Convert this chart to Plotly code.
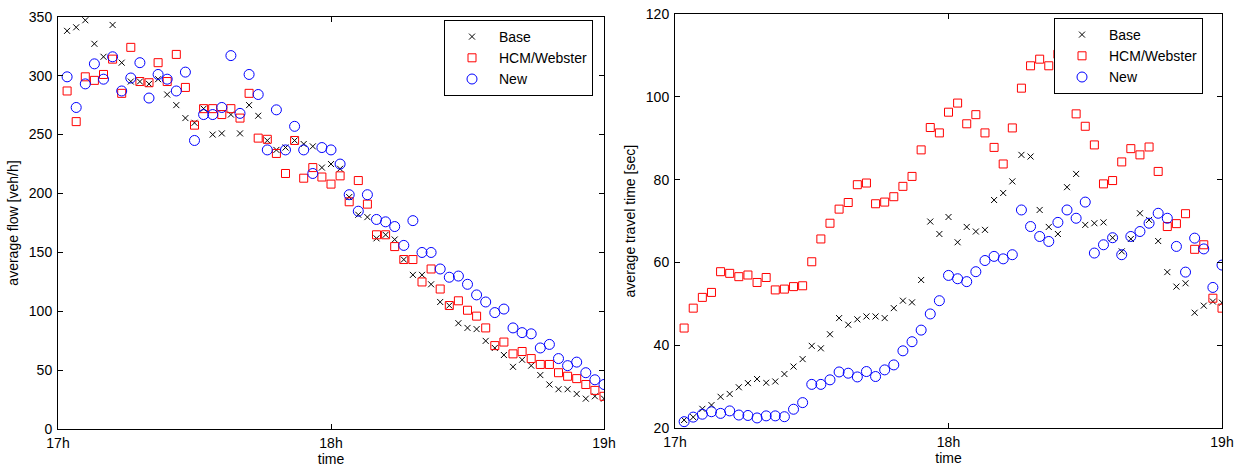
import plotly.graph_objects as go

# minutes after 17:00
minutes = [2, 4, 6, 8, 10, 12, 14, 16, 18, 20, 22, 24, 26, 28, 30, 32, 34, 36, 38, 40,
           42, 44, 46, 48, 50, 52, 54, 56, 58, 60, 62, 64, 66, 68, 70, 72, 74, 76, 78, 80,
           82, 84, 86, 88, 90, 92, 94, 96, 98, 100, 102, 104, 106, 108, 110, 112, 114, 116, 118, 120]

x_tickvals = [0, 60, 120]
x_ticktext = ["17h", "18h", "19h"]

flow_base = [338, 341, 347, 327, 316, 343, 311, 295, 295, 293, 297, 284, 275, 264, 260, 272, 250, 251, 267, 251,
             275, 266, 245, 237, 239, 245, 242, 240, 222, 225, 221, 197, 182, 180, 162, 165, 161, 144, 131, 131,
             123, 108, 105, 90, 86, 85, 75, 69, 63, 53, 59, 54, 46, 38, 34, 34, 30, 26, 28, 26]
flow_hcm = [287, 261, 299, 296, 301, 314, 285, 324, 295, 294, 311, 295, 318, 290, 258, 272, 272, 267, 272, 264,
            285, 247, 246, 234, 217, 245, 213, 222, 214, 208, 215, 193, 211, 191, 165, 165, 155, 144, 144, 125,
            136, 119, 105, 109, 101, 96, 86, 71, 74, 64, 66, 60, 55, 55, 48, 45, 43, 38, 33, 28]
flow_new = [299, 273, 293, 310, 297, 316, 287, 298, 311, 281, 301, 297, 287, 303, 245, 267, 267, 273, 317, 268,
            301, 284, 237, 271, 237, 257, 237, 217, 239, 237, 225, 199, 185, 199, 178, 176, 172, 156, 177, 150,
            150, 136, 129, 130, 123, 114, 108, 99, 102, 86, 82, 81, 69, 72, 60, 54, 57, 48, 42, 38]

tt_base = [22.0, 22.7, 24.7, 25.6, 27.6, 28.3, 29.9, 30.9, 31.9, 31.0, 31.3, 33.1, 34.9, 36.7, 39.9, 39.3, 42.7, 46.6, 45.0, 46.3,
           47.0, 47.0, 46.6, 49.0, 50.8, 50.4, 55.8, 69.9, 66.9, 71.0, 64.9, 68.6, 67.5, 67.9, 75.1, 76.8, 79.6, 86.0, 85.6, 72.7,
           68.6, 66.9, 78.2, 81.4, 69.1, 69.5, 69.7, 66.0, 62.7, 65.7, 71.9, 70.3, 65.2, 57.7, 54.2, 55.0, 47.9, 49.6, 50.6, 50.3]
tt_hcm = [44.2, 49.0, 51.6, 52.8, 57.8, 57.4, 56.6, 57.0, 55.2, 56.4, 53.4, 53.6, 54.2, 54.4, 60.2, 65.7, 69.5, 72.9, 74.5, 78.8,
          79.2, 74.2, 74.6, 75.9, 78.4, 80.8, 87.2, 92.6, 91.3, 96.3, 98.5, 93.5, 95.7, 91.3, 87.8, 83.8, 92.5, 102.1, 107.5, 109.1,
          107.5, 110.3, 104.9, 95.9, 92.9, 88.4, 79.0, 79.8, 84.3, 87.5, 86.0, 87.9, 82.0, 68.7, 69.4, 71.8, 63.2, 64.3, 51.4, 49.0]
tt_new = [21.6, 22.7, 23.4, 24.0, 23.6, 24.2, 23.2, 23.1, 22.5, 23.0, 23.0, 22.8, 24.6, 26.2, 30.6, 30.6, 31.7, 33.6, 33.3, 32.4,
          33.7, 32.5, 34.1, 35.3, 38.7, 40.9, 43.7, 47.6, 50.8, 56.9, 56.1, 55.4, 57.8, 60.5, 61.5, 60.9, 61.9, 72.7, 68.7, 66.3,
          65.1, 69.7, 72.7, 70.7, 74.6, 62.3, 64.3, 66.0, 61.9, 66.3, 67.5, 69.5, 71.9, 70.7, 63.9, 57.7, 65.9, 63.3, 54.0, 59.4]

series_names = ["Base", "HCM/Webster", "New"]

FONT = "Liberation Sans, Arial, sans-serif"
FS = 14
W, H = 1240, 468

def mk(name, x, y, xa, ya, legend, kind):
    if kind == 0:
        marker = dict(symbol="x-thin-open", size=6, color="black", line=dict(width=1, color="black"))
    elif kind == 1:
        marker = dict(symbol="square-open", size=8, color="red", line=dict(width=1, color="red"))
    else:
        marker = dict(symbol="circle-open", size=10, color="blue", line=dict(width=1, color="blue"))
    return go.Scatter(x=x, y=y, mode="markers", name=name, marker=marker,
                      xaxis=xa, yaxis=ya, legend=legend, showlegend=True)

fig = go.Figure()
for k, (s, ys) in enumerate(zip(series_names, [flow_base, flow_hcm, flow_new])):
    fig.add_trace(mk(s, minutes, ys, "x", "y", "legend", k))
for k, (s, ys) in enumerate(zip(series_names, [tt_base, tt_hcm, tt_new])):
    fig.add_trace(mk(s, minutes, ys, "x2", "y2", "legend2", k))

axis_common = dict(showline=True, linecolor="black", linewidth=1, mirror="ticks",
                   ticks="inside", ticklen=5, tickwidth=1, tickcolor="black",
                   showgrid=False, zeroline=False, automargin=False,
                   tickfont=dict(family=FONT, size=FS, color="black"),
                   title_font=dict(family=FONT, size=FS, color="black"))

legend_common = dict(xanchor="left", yanchor="top", bgcolor="white",
                     bordercolor="black", borderwidth=1,
                     font=dict(family=FONT, size=FS, color="black"),
                     itemwidth=44, tracegroupgap=0)

fig.update_layout(
    width=W, height=H,
    margin=dict(l=0, r=0, t=0, b=0, autoexpand=False),
    paper_bgcolor="white", plot_bgcolor="white",
    font=dict(family=FONT, size=FS, color="black"),
    xaxis=dict(domain=[58 / W, 604 / W], range=[0, 120], tickvals=x_tickvals, ticktext=x_ticktext,
               ticklabelstandoff=1,
               title=dict(text="time", standoff=1), anchor="y", **axis_common),
    yaxis=dict(domain=[(H - 429.3) / H, (H - 16.7) / H], range=[0, 350], dtick=50,
               ticklabelstandoff=2,
               title=dict(text="average flow [veh/h]", standoff=6), anchor="x", **axis_common),
    xaxis2=dict(domain=[675 / W, 1222 / W], range=[0, 120], tickvals=x_tickvals, ticktext=x_ticktext,
                ticklabelstandoff=1,
                title=dict(text="time", standoff=1), anchor="y2", **axis_common),
    yaxis2=dict(domain=[(H - 428.3) / H, (H - 14) / H], range=[20, 120], dtick=20,
                ticklabelstandoff=2,
                title=dict(text="average travel time [sec]", standoff=6), anchor="x2", **axis_common),
    legend=dict(x=444 / W, y=(H - 20) / H, **legend_common),
    legend2=dict(x=1054 / W, y=(H - 18) / H, **legend_common),
)

fig.write_html("out.html", config={"displayModeBar": False},
               post_script="document.body.style.margin='0';document.body.style.padding='0';")
